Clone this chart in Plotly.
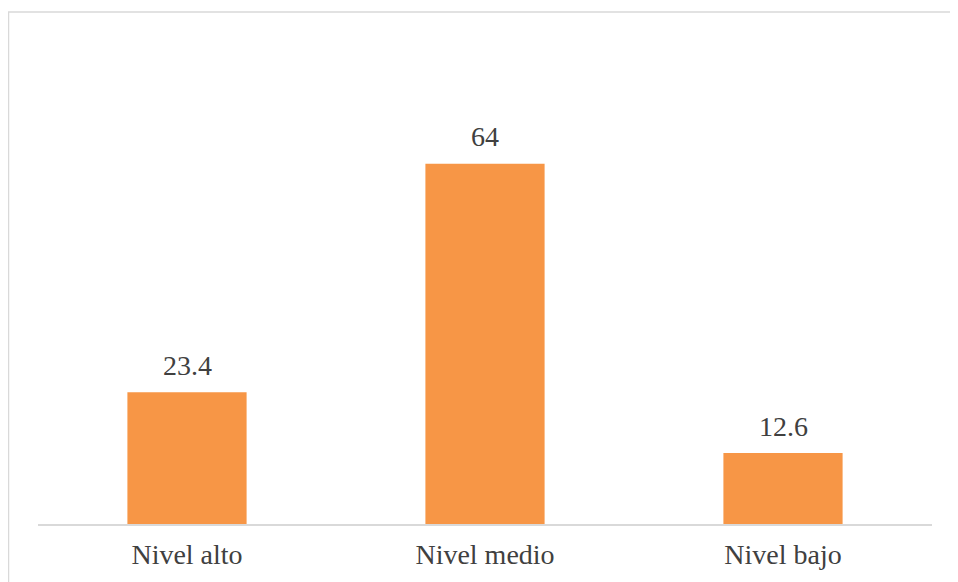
import plotly.graph_objects as go

categories = ["Nivel alto", "Nivel medio", "Nivel bajo"]
values = [23.4, 64, 12.6]
labels = ["23.4", "64", "12.6"]

W, H = 950, 574
OFF = 8  # page body margin
ml, mr, mt, mb = 38 - OFF, 26, 130 - OFF, 58
pw = W - ml - mr
ph = H - mt - mb
FONT = "Times New Roman, Liberation Serif, serif"

fig = go.Figure(go.Bar(
    x=categories, y=values,
    marker=dict(color="#F79646", line=dict(width=0)),
))

for c, v, t in zip(categories, values, labels):
    fig.add_annotation(x=c, y=v, text=t, showarrow=False, yanchor="middle",
                       yshift=27, font=dict(family=FONT, size=28, color="#404040"))

def px_x(p):
    return (p - OFF - ml) / pw

def px_y(p):
    return (H - mb - (p - OFF)) / ph

fig.update_layout(
    width=W, height=H,
    margin=dict(l=ml, r=mr, t=mt, b=mb),
    plot_bgcolor="white", paper_bgcolor="white",
    bargap=0.6, showlegend=False,
    xaxis=dict(showline=True, linecolor="#D9D9D9", linewidth=1.5, ticks="",
               tickfont=dict(family=FONT, size=28, color="#404040"),
               ticklabelstandoff=5, showgrid=False),
    yaxis=dict(range=[0, 70], visible=False, showgrid=False, zeroline=False),
    shapes=[dict(type="rect", xref="paper", yref="paper",
                 x0=px_x(8.5), x1=px_x(975), y0=px_y(12), y1=px_y(600),
                 line=dict(color="#D9D9D9", width=1.5), layer="below")],
)

fig.write_html("out.html")
